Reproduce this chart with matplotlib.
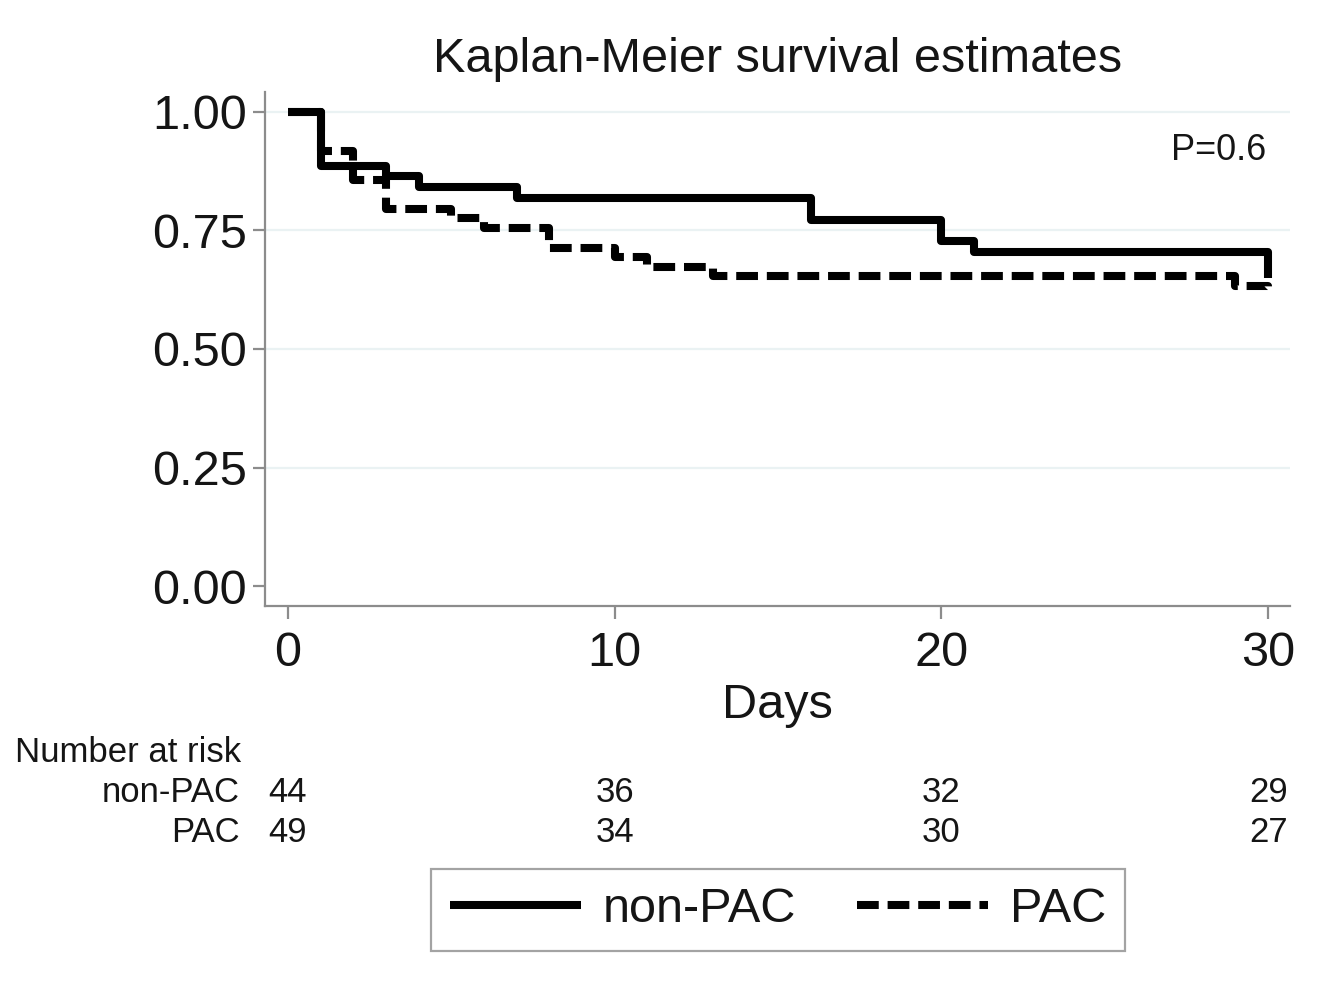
import matplotlib
matplotlib.use("Agg")
import matplotlib.pyplot as plt
from matplotlib.transforms import blended_transform_factory

plt.rcParams['font.family'] = ['Liberation Sans', 'DejaVu Sans']

# Kaplan-Meier step estimates (time in days, survival after each step)
nonpac_time = [0, 1, 3, 4, 7, 16, 20, 21, 30]
nonpac_surv = [1.000, 0.886, 0.864, 0.841, 0.818, 0.773, 0.727, 0.705, 0.650]

pac_time = [0, 1, 2, 3, 5, 6, 8, 10, 11, 13, 29, 30]
pac_surv = [1.000, 0.918, 0.857, 0.796, 0.776, 0.755, 0.714, 0.694, 0.673, 0.653, 0.633, 0.622]

# Number at risk table
risk_days = [0, 10, 20, 30]
risk_nonpac = [44, 36, 32, 29]
risk_pac = [49, 34, 30, 27]

y_ticks = [0.00, 0.25, 0.50, 0.75, 1.00]
x_ticks = [0, 10, 20, 30]

W, H = 1329, 992
fig = plt.figure(figsize=(W / 100, H / 100), dpi=100)
ax_top, ax_bot = 92, 606
ax = fig.add_axes([265 / W, 1 - ax_bot / H, (1290 - 265) / W, (ax_bot - ax_top) / H])


def axes_y(px):
    """Convert a pixel row of the figure into an axes-fraction y."""
    return (ax_bot - px) / (ax_bot - ax_top)


ax.set_xlim(-0.70, 30.67)
ax.set_ylim(-0.042, 1.042)

grey = '#8c8c8c'
ink = '#151515'
for s in ['top', 'right']:
    ax.spines[s].set_visible(False)
for s in ['left', 'bottom']:
    ax.spines[s].set_color(grey)
    ax.spines[s].set_linewidth(1.6)

for yv in y_ticks[1:]:
    ax.axhline(yv, color='#eaf2f3', lw=1.6, zorder=0)

ax.step(pac_time, pac_surv, where='post', color='black', lw=5.8,
        dashes=(2.7, 1.1), solid_capstyle='butt', dash_capstyle='butt',
        label='PAC', zorder=2)
ax.step(nonpac_time, nonpac_surv, where='post', color='black', lw=5.8,
        solid_capstyle='butt', label='non-PAC', zorder=3)

ax.set_yticks(y_ticks)
ax.set_yticklabels([f'{v:.2f}' for v in y_ticks])
ax.set_xticks(x_ticks)
ax.tick_params(axis='both', colors=grey, length=9, width=1.6, labelsize=35,
               labelcolor=ink)
ax.tick_params(axis='y', pad=4)
ax.tick_params(axis='x', pad=9)

ax.set_title('Kaplan-Meier survival estimates', fontsize=35, color=ink,
             y=axes_y(59), va='center', pad=0)
ax.set_xlabel('Days', fontsize=35, color=ink, va='center')
ax.xaxis.set_label_coords(0.5, axes_y(706))

fig.text(1266 / W, 1 - 150 / H, 'P=0.6', ha='right', va='center',
         fontsize=26, color=ink)

# Number at risk table below the axis
fs_tab = 25
fig.text(15 / W, 1 - 752 / H, 'Number at risk', ha='left', va='center',
         fontsize=fs_tab, color=ink)
fig.text(240 / W, 1 - 793 / H, 'non-PAC', ha='right', va='center',
         fontsize=fs_tab, color=ink)
fig.text(240 / W, 1 - 832 / H, 'PAC', ha='right', va='center',
         fontsize=fs_tab, color=ink)
tr = blended_transform_factory(ax.transData, fig.transFigure)
for d, a, b in zip(risk_days, risk_nonpac, risk_pac):
    ax.text(d, 1 - 793 / H, str(a), transform=tr, ha='center', va='center',
            fontsize=fs_tab, color=ink, clip_on=False)
    ax.text(d, 1 - 832 / H, str(b), transform=tr, ha='center', va='center',
            fontsize=fs_tab, color=ink, clip_on=False)

handles, labels = ax.get_legend_handles_labels()
order = [labels.index('non-PAC'), labels.index('PAC')]
leg = fig.legend([handles[i] for i in order], [labels[i] for i in order],
                 loc='center', bbox_to_anchor=(778 / W, 1 - 910 / H), ncol=2,
                 fontsize=35, frameon=True, fancybox=False, handlelength=2.7,
                 columnspacing=1.25, handletextpad=0.45, borderpad=0.38,
                 labelcolor=ink)
leg.get_frame().set_edgecolor(grey)
leg.get_frame().set_linewidth(1.6)

fig.savefig('out.png', dpi=100)
